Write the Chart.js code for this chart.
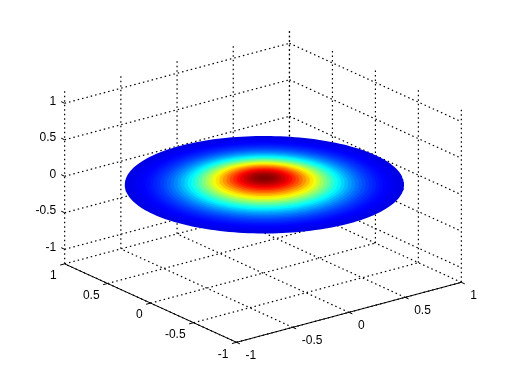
<!DOCTYPE html>
<html>
<head>
<meta charset="utf-8">
<style>
  html, body { margin: 0; padding: 0; background: #fff; }
  canvas { display: block; }
</style>
<script src="https://cdn.jsdelivr.net/npm/chart.js@4"></script>
</head>
<body>
<canvas id="myChart" width="512" height="384"></canvas>
<script>
const xTicks = [-1, -0.5, 0, 0.5, 1];
const yTicks = [-1, -0.5, 0, 0.5, 1];
const zTicks = [-1, -0.5, 0, 0.5, 1];
const xLimits = [-1, 1];
const yLimits = [-1, 1];
const zLimits = [-1.2, 1.2];

// radial profile of the disc, edge to centre
const ringRadius = [1, 0.975, 0.95, 0.925, 0.9, 0.875, 0.85, 0.825, 0.8, 0.775, 0.75, 0.725, 0.7, 0.675, 0.65, 0.625, 0.6, 0.575, 0.55, 0.525, 0.5,
  0.475, 0.45, 0.425, 0.4, 0.375, 0.35, 0.325, 0.3, 0.275, 0.25, 0.225, 0.2, 0.175, 0.15, 0.125, 0.1, 0.075, 0.05, 0.025];
const ringValue = [0.099, 0.102, 0.107, 0.113, 0.119, 0.126, 0.135, 0.144, 0.156, 0.168, 0.182, 0.198, 0.216, 0.235, 0.257, 0.28, 0.305, 0.333, 0.362, 0.393, 0.426,
  0.461, 0.497, 0.534, 0.572, 0.611, 0.65, 0.689, 0.727, 0.765, 0.801, 0.835, 0.867, 0.896, 0.923, 0.946, 0.965, 0.98, 0.991, 0.998];
const surfaceHeight = 0.105;
const discRadius = 0.987;
const discCenter = [0.008, -0.006];

// view of the axes box
const az = 37.4 * Math.PI / 180;
const sinEl = 0.349;
const zStretch = 0.5159;
const pixelsPerUnit = 141.5;
const centerX = 263;
const centerY = 185.5;

function project(x, y, z) {
  return {
    x: x * Math.cos(az) - y * Math.sin(az),
    y: (x * Math.sin(az) + y * Math.cos(az)) * sinEl + z * zStretch
  };
}

function jet(t) {
  const part = (c) => Math.round(255 * Math.max(0, Math.min(1, 1.5 - Math.abs(4 * t - c))));
  return `rgb(${part(3)},${part(2)},${part(1)})`;
}

const datasets = [];

function addLine(points, dotted) {
  datasets.push({
    data: points,
    showLine: true,
    pointRadius: 0,
    borderColor: '#000',
    borderWidth: dotted ? 1.2 : 1,
    borderDash: dotted ? [1.5, 3] : [],
    fill: false
  });
}

// grid on the two back walls and the floor
const zFloor = zLimits[0];
const zTop = zLimits[1];
const xBack = xLimits[1];
const yBack = yLimits[1];

xTicks.forEach((x) => {
  addLine([project(x, yBack, zFloor), project(x, yBack, zTop)], true);
  addLine([project(x, yLimits[0], zFloor), project(x, yBack, zFloor)], true);
});
yTicks.forEach((y) => {
  addLine([project(xBack, y, zFloor), project(xBack, y, zTop)], true);
  addLine([project(xLimits[0], y, zFloor), project(xBack, y, zFloor)], true);
});
zTicks.forEach((z) => {
  addLine([project(xLimits[0], yBack, z), project(xBack, yBack, z)], true);
  addLine([project(xBack, yBack, z), project(xBack, yLimits[0], z)], true);
});

// the surface, painted from the rim to the middle
ringRadius.forEach((r, i) => {
  const pts = [];
  const rr = r * discRadius;
  for (let a = 0; a <= 180; a++) {
    const t = a / 180 * 2 * Math.PI;
    pts.push(project(discCenter[0] + rr * Math.cos(t), discCenter[1] + rr * Math.sin(t), ringValue[i] * surfaceHeight));
  }
  datasets.push({
    data: pts,
    showLine: true,
    pointRadius: 0,
    borderWidth: 0,
    borderColor: jet(ringValue[i]),
    backgroundColor: jet(ringValue[i]),
    fill: 'shape'
  });
});

// solid axes and their ticks
const tickLength = 0.04;
addLine([project(xLimits[0], yLimits[0], zFloor), project(xLimits[1], yLimits[0], zFloor)], false);
addLine([project(xLimits[0], yLimits[0], zFloor), project(xLimits[0], yLimits[1], zFloor)], false);
xTicks.forEach((x) => addLine([project(x, yLimits[0], zFloor), project(x, yLimits[0] - tickLength, zFloor)], false));
yTicks.forEach((y) => addLine([project(xLimits[0], y, zFloor), project(xLimits[0] - tickLength, y, zFloor)], false));
zTicks.forEach((z) => addLine([project(xLimits[0], yBack, z), project(xLimits[0], yBack + tickLength, z)], false));

const tickText = {
  id: 'tickText',
  afterDraw(chart) {
    const { ctx, scales } = chart;
    const put = (label, p, dx, dy, align) => {
      ctx.textAlign = align;
      ctx.fillText(String(label), scales.x.getPixelForValue(p.x) + dx, scales.y.getPixelForValue(p.y) + dy);
    };
    ctx.save();
    ctx.fillStyle = '#000';
    ctx.font = '12px "Liberation Sans"';
    ctx.textBaseline = 'middle';
    xTicks.forEach((x) => put(x, project(x, yLimits[0], zFloor), 9, 13, 'left'));
    yTicks.forEach((y) => put(y, project(xLimits[0], y, zFloor), -8, 12, 'right'));
    zTicks.forEach((z) => put(z, project(xLimits[0], yBack, z), -8.5, -2, 'right'));
    ctx.restore();
  }
};

new Chart(document.getElementById('myChart'), {
  type: 'scatter',
  data: { datasets: datasets.reverse() },
  options: {
    responsive: false,
    animation: false,
    events: [],
    layout: { padding: 0 },
    plugins: { legend: { display: false }, tooltip: { enabled: false } },
    scales: {
      x: { display: false, min: -centerX / pixelsPerUnit, max: (512 - centerX) / pixelsPerUnit },
      y: { display: false, min: (centerY - 384) / pixelsPerUnit, max: centerY / pixelsPerUnit }
    }
  },
  plugins: [tickText]
});
</script>
</body>
</html>
